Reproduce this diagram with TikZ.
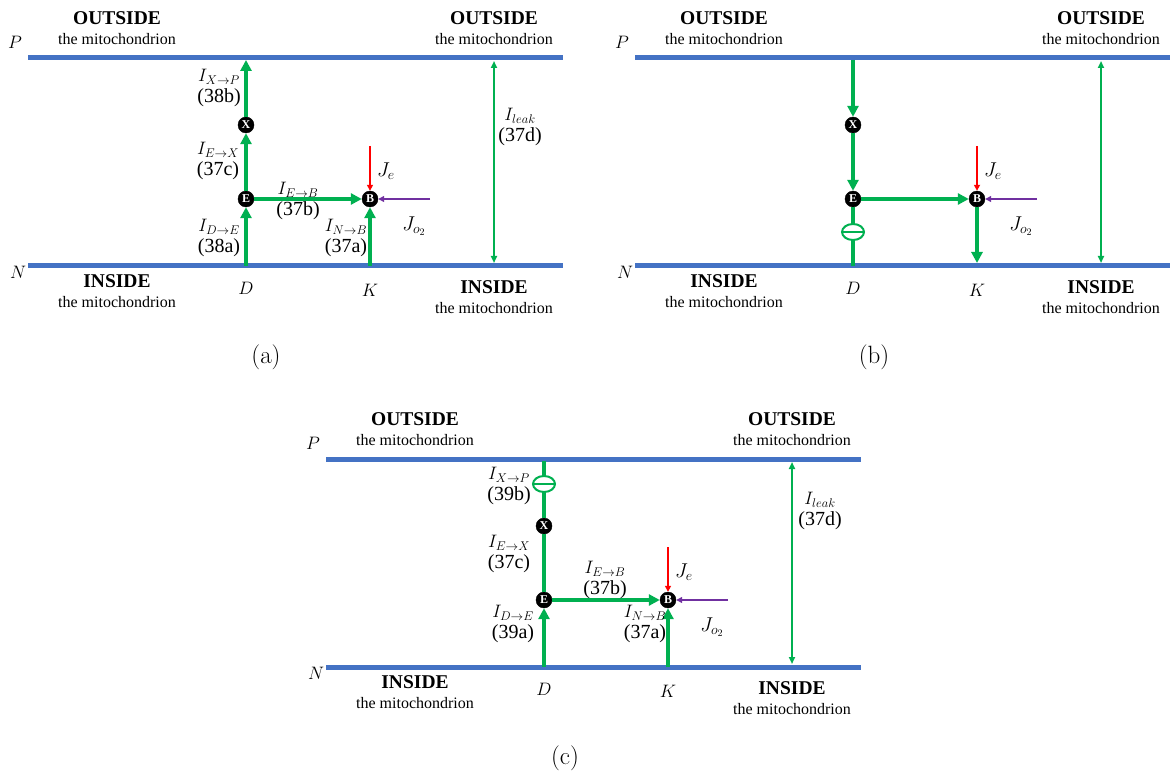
\RequirePackage{fix-cm}
\documentclass[tikz,border=0pt]{standalone}
\usepackage{fontspec}
\newfontfamily\tnr{Liberation Serif}
\usetikzlibrary{arrows.meta,shapes.geometric}
\definecolor{membraneBlue}{HTML}{4472C4}
\definecolor{fluxGreen}{HTML}{00B050}
\definecolor{oxyPurple}{HTML}{7030A0}
\definecolor{elecRed}{HTML}{FF0000}

%% membranes, compartments and the common nodes of one panel
\newcommand{\mitoFrame}{%
  \draw[membraneDecorate] (28,58) -- (563,58);
  \draw[membraneDecorate] (28,266) -- (563,266);
  \node[sideLabel] (Plab) at (15,42) {$P$};
  \node[sideLabel] (Nlab) at (18,272) {$N$};
  \node[sideLabel] (Dlab) at (246,288) {$D$};
  \node[sideLabel] (Klab) at (370,290) {$K$};
  \foreach \nodename/\x/\y/\word in {
    outL/117/18/OUTSIDE, outR/494/18/OUTSIDE, inL/117/281/INSIDE, inR/494/287/INSIDE}
  {
    \node[regionDecorate] (\nodename) at (\x,\y) {\word};
    \node[subDecorate] (\nodename-sub) at (\x,\y+21) {the mitochondrion};
  }
  \coordinate (D) at (246,266);
  \coordinate (K) at (370,266);
  \coordinate (Kt) at (370,263);
  \coordinate (Pt) at (246,60);
  \coordinate (leakP) at (494,61);
  \coordinate (leakN) at (494,263);
  \coordinate (Je) at (370,146);
  \coordinate (Jo) at (430,199);
  \foreach \nodename/\x/\y in {X/246/125, E/246/199, B/370/199}
  {
    \node[nodeDecorate] (\nodename) at (\x,\y) {\nodename};
  }
  \draw[leakDecorate] (leakN) -- (leakP);
  \draw[elecDecorate] (Je) -- (B);
  \draw[oxyDecorate] (Jo) -- (B);
  \node[jLabel] (Jelab) at (386,171) {$J_e$};
  \node[jLabel] (Jolab) at (414,226) {$J_{o_2}$};
}

\begin{document}
\begin{tikzpicture}
[x=1pt,y=-1pt,
  membraneDecorate/.style={draw=membraneBlue,line width=5pt},%
  fluxDecorate/.style={draw=fluxGreen,line width=4pt,-{Triangle[length=11pt,width=11pt]}},%
  fluxPlain/.style={draw=fluxGreen,line width=4pt},%
  leakDecorate/.style={draw=fluxGreen,line width=2pt,{Triangle[length=7pt,width=6pt]}-{Triangle[length=7pt,width=6pt]}},%
  elecDecorate/.style={draw=elecRed,line width=1.6pt,-{Triangle[length=6pt,width=6pt]}},%
  oxyDecorate/.style={draw=oxyPurple,line width=2pt,-{Triangle[length=6pt,width=6pt]}},%
  nodeDecorate/.style={shape=circle,fill=black,draw=black,inner sep=0pt,minimum size=16pt,text=white,font=\tnr\bfseries\fontsize{12}{12}\selectfont},%
  diodeDecorate/.style={shape=ellipse,draw=fluxGreen,line width=2pt,fill=white,inner sep=0pt,minimum width=22pt,minimum height=16pt},%
  regionDecorate/.style={font=\tnr\bfseries\fontsize{19.5}{22}\selectfont},%
  subDecorate/.style={font=\tnr\fontsize{16}{18}\selectfont},%
  sideLabel/.style={font=\fontsize{18}{20}\selectfont},%
  jLabel/.style={font=\fontsize{20}{22}\selectfont},%
  fluxLabel/.style={align=center,font=\tnr\fontsize{20}{21}\selectfont},%
  panelLabel/.style={font=\fontsize{25}{30}\selectfont}]
\useasboundingbox (0,0) rectangle (1172,775);

%% (a)
\begin{scope}[name prefix=a-]
  \mitoFrame
  \path
  \foreach \startnode/\endnode in {D/E, E/X, X/Pt, E/B, K/B}
  {
    (\startnode) edge[fluxDecorate] (\endnode)
  };
  \foreach \lname/\x/\y/\flux/\eqn in {
    xp/219/88/X\to P/38b, ex/218/161/E\to X/37c, de/219/238/D\to E/38a,
    eb/298/201/E\to B/37b, nb/346/238/N\to B/37a, lk/520/127/leak/37d}
  {
    \node[fluxLabel] (\lname) at (\x,\y) {{\fontsize{18}{21}\selectfont$I_{\flux}$}\\(\eqn)};
  }
\end{scope}

%% (b)
\begin{scope}[shift={(607,0)},name prefix=b-]
  \mitoFrame
  \node[diodeDecorate] (dio) at (246,232) {};
  \draw[fluxPlain] (D) -- (dio);
  \draw[fluxPlain] (dio) -- (E);
  \draw[draw=fluxGreen,line width=2pt] (dio.west) -- (dio.east);
  \path
  \foreach \startnode/\endnode in {Pt/X, X/E, E/B, B/Kt}
  {
    (\startnode) edge[fluxDecorate] (\endnode)
  };
\end{scope}

%% (c)
\begin{scope}[shift={(298,401)},name prefix=c-]
  \mitoFrame
  \node[diodeDecorate] (dio) at (246,83) {};
  \draw[fluxPlain] (Pt) -- (dio);
  \draw[fluxPlain] (dio) -- (X);
  \draw[fluxPlain] (X) -- (E);
  \draw[draw=fluxGreen,line width=2pt] (dio.west) -- (dio.east);
  \path
  \foreach \startnode/\endnode in {D/E, E/B, K/B}
  {
    (\startnode) edge[fluxDecorate] (\endnode)
  };
  \foreach \lname/\x/\y/\flux/\eqn in {
    xp/211/85/X\to P/39b, ex/211/153/E\to X/37c, de/215/223/D\to E/39a,
    eb/307/179/E\to B/37b, nb/347/223/N\to B/37a, lk/522/110/leak/37d}
  {
    \node[fluxLabel] (\lname) at (\x,\y) {{\fontsize{18}{21}\selectfont$I_{\flux}$}\\(\eqn)};
  }
\end{scope}

%% captions
\node[panelLabel] (capA) at (266,357) {(a)};
\node[panelLabel] (capB) at (874,357) {(b)};
\node[panelLabel] (capC) at (565,758) {(c)};
\end{tikzpicture}
\end{document}
